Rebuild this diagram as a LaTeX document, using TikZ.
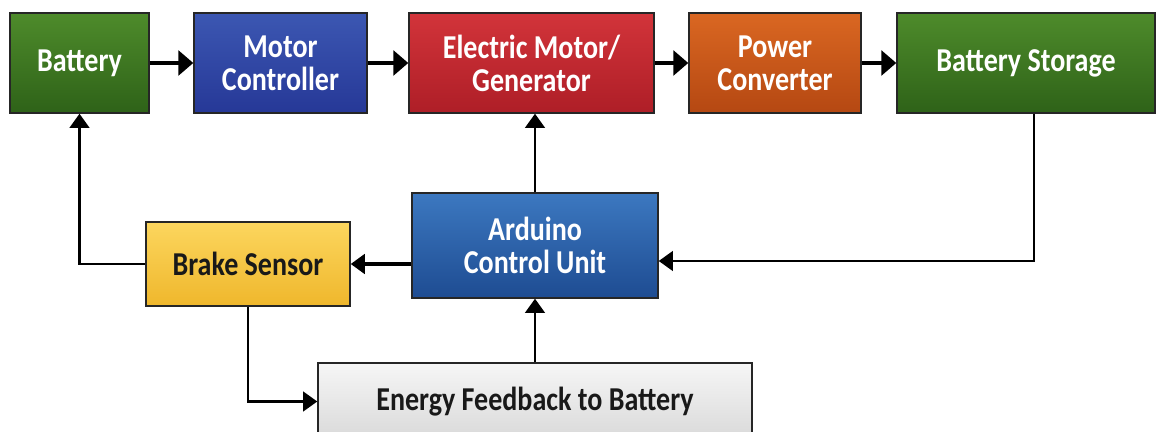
\documentclass[tikz,border=0pt]{standalone}
\usepackage{fontspec}
\setmainfont{Carlito}
\newfontfamily\boxfont[FakeStretch=0.84]{Carlito}
\usetikzlibrary{arrows.meta,shapes,arrows}

\definecolor{battgreenA}{HTML}{4E8B2B}
\definecolor{battgreenB}{HTML}{2E6218}
\definecolor{ctrlblueA}{HTML}{3C57B2}
\definecolor{ctrlblueB}{HTML}{263897}
\definecolor{motorredA}{HTML}{D2343A}
\definecolor{motorredB}{HTML}{AE1E27}
\definecolor{convorangeA}{HTML}{DA6722}
\definecolor{convorangeB}{HTML}{B54812}
\definecolor{ardblueA}{HTML}{3C78C0}
\definecolor{ardblueB}{HTML}{1E4C92}
\definecolor{brakeyellowA}{HTML}{FCD65E}
\definecolor{brakeyellowB}{HTML}{EFB72C}
\definecolor{feedgrayA}{HTML}{F6F6F6}
\definecolor{feedgrayB}{HTML}{D9D9D9}

\begin{document}
\begin{tikzpicture}
  \useasboundingbox (0,0) rectangle (23.26,-8.64);
  \begin{scope}[every node/.style={rectangle,draw=black!85,line width=0.8pt,align=center,text=white,
      font=\boxfont\bfseries\fontsize{19}{18.7}\selectfont}]
    \node[top color=battgreenA,bottom color=battgreenB,minimum width=2.78cm,minimum height=2cm] (battery) at (1.59,-1.26) {Battery};
    \node[top color=ctrlblueA,bottom color=ctrlblueB,minimum width=3.46cm,minimum height=2cm] (ctrl) at (5.61,-1.26) {Motor\\Controller};
    \node[top color=motorredA,bottom color=motorredB,minimum width=4.9cm,minimum height=2cm] (motor) at (10.63,-1.26) {Electric Motor/\\Generator};
    \node[top color=convorangeA,bottom color=convorangeB,minimum width=3.44cm,minimum height=2cm] (conv) at (15.5,-1.26) {Power\\Converter};
    \node[top color=battgreenA,bottom color=battgreenB,minimum width=5.16cm,minimum height=2cm] (storage) at (20.52,-1.26) {Battery Storage};
    \node[top color=ardblueA,bottom color=ardblueB,minimum width=4.92cm,minimum height=2.1cm] (arduino) at (10.7,-4.91) {Arduino\\Control Unit};
    \node[top color=brakeyellowA,bottom color=brakeyellowB,minimum width=4.08cm,minimum height=1.68cm,text=black!90] (brake) at (4.96,-5.28) {Brake Sensor};
    \node[top color=feedgrayA,bottom color=feedgrayB,minimum width=8.68cm,minimum height=1.54cm,text=black!90] (feedback) at (10.7,-8.03) {Energy Feedback to Battery};
  \end{scope}
  \begin{scope}[>={Triangle[black,length=8.5pt,width=14pt]},every edge/.style={draw=black,line width=2.6pt}]
    \path[->] (battery) edge (ctrl);
    \path[->] (ctrl) edge (motor);
    \path[->] (motor) edge (conv);
    \path[->] (conv) edge (storage);
  \end{scope}
  \begin{scope}[>={Triangle[black,length=8pt,width=11pt]},line width=1.6pt]
    \draw[->] ([xshift=0.16cm]storage.south) |- ([yshift=-0.31cm]arduino.east);
    \draw[->,line width=2.2pt] (arduino.west |- brake.east) -- (brake.east);
    \draw[->] (brake.west) -| (battery.south);
    \draw[->] (brake.south) |- (feedback.west);
    \draw[->] (feedback.north) -- (arduino.south);
    \draw[->] (arduino.north) -- (arduino.north |- motor.south);
  \end{scope}
\end{tikzpicture}
\end{document}
